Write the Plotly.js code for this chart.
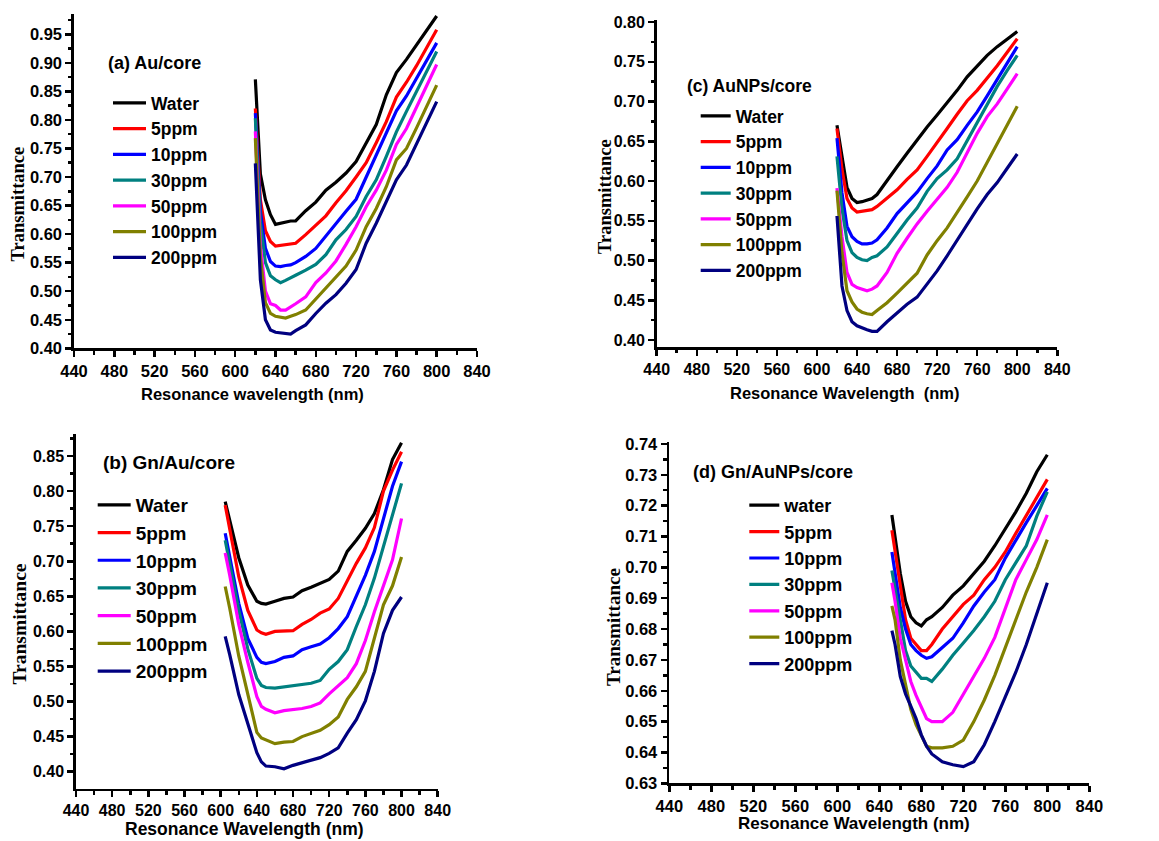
<!DOCTYPE html>
<html>
<head>
<meta charset="utf-8">
<script src="https://cdn.plot.ly/plotly-3.0.1.min.js"></script>
<style>html,body{margin:0;padding:0;background:#fff;}#chart{width:1159px;height:841px;}</style>
</head>
<body>
<div id="chart"></div>
<script>
// ---------------- DATA ----------------
const legendNamesA = ['Water', '5ppm', '10ppm', '30ppm', '50ppm', '100ppm', '200ppm'];
const legendNamesB = ['Water', '5ppm', '10ppm', '30ppm', '50ppm', '100ppm', '200ppm'];
const legendNamesC = ['Water', '5ppm', '10ppm', '30ppm', '50ppm', '100ppm', '200ppm'];
const legendNamesD = ['water', '5ppm', '10ppm', '30ppm', '50ppm', '100ppm', '200ppm'];

// (a) Au/core
const wl_a = [620, 625, 630, 635, 640, 645, 650, 655, 660, 670, 680, 690, 700, 710, 720, 730, 740, 750, 760, 770, 780, 790, 800];
const a_water  = [0.871, 0.705, 0.660, 0.634, 0.617, 0.619, 0.621, 0.623, 0.623, 0.641, 0.656, 0.677, 0.691, 0.707, 0.727, 0.760, 0.792, 0.844, 0.883, 0.906, 0.932, 0.957, 0.982];
const a_5ppm   = [0.820, 0.660, 0.606, 0.587, 0.579, 0.580, 0.582, 0.583, 0.584, 0.599, 0.615, 0.632, 0.655, 0.676, 0.700, 0.725, 0.760, 0.797, 0.840, 0.866, 0.895, 0.927, 0.958];
const a_10ppm  = [0.812, 0.640, 0.575, 0.552, 0.544, 0.543, 0.545, 0.546, 0.550, 0.561, 0.575, 0.597, 0.620, 0.640, 0.661, 0.700, 0.736, 0.777, 0.816, 0.842, 0.873, 0.904, 0.935];
const a_30ppm  = [0.803, 0.620, 0.550, 0.527, 0.520, 0.515, 0.519, 0.524, 0.528, 0.537, 0.547, 0.564, 0.590, 0.608, 0.631, 0.666, 0.695, 0.736, 0.779, 0.815, 0.851, 0.886, 0.920];
const a_50ppm  = [0.780, 0.580, 0.500, 0.478, 0.475, 0.467, 0.467, 0.472, 0.478, 0.490, 0.515, 0.532, 0.553, 0.582, 0.613, 0.648, 0.677, 0.712, 0.757, 0.785, 0.822, 0.860, 0.897];
const a_100ppm = [0.768, 0.560, 0.480, 0.461, 0.456, 0.454, 0.453, 0.456, 0.459, 0.467, 0.486, 0.505, 0.524, 0.544, 0.572, 0.613, 0.645, 0.683, 0.730, 0.750, 0.786, 0.824, 0.861];
const a_200ppm = [0.724, 0.520, 0.450, 0.432, 0.428, 0.427, 0.427, 0.425, 0.431, 0.441, 0.461, 0.479, 0.494, 0.514, 0.538, 0.584, 0.619, 0.657, 0.695, 0.721, 0.758, 0.795, 0.832];

// (c) AuNPs/core
const wl_c = [620, 625, 630, 635, 640, 645, 650, 655, 660, 670, 680, 690, 700, 710, 720, 730, 740, 750, 760, 770, 780, 790, 800];
const c_water  = [0.670, 0.630, 0.592, 0.578, 0.573, 0.574, 0.576, 0.578, 0.583, 0.601, 0.618, 0.635, 0.652, 0.668, 0.683, 0.698, 0.714, 0.731, 0.745, 0.758, 0.769, 0.779, 0.788];
const c_5ppm   = [0.666, 0.615, 0.578, 0.566, 0.561, 0.562, 0.563, 0.564, 0.568, 0.579, 0.589, 0.602, 0.614, 0.631, 0.648, 0.666, 0.684, 0.701, 0.714, 0.729, 0.745, 0.762, 0.779];
const c_10ppm  = [0.654, 0.585, 0.543, 0.530, 0.524, 0.521, 0.521, 0.522, 0.526, 0.541, 0.559, 0.573, 0.586, 0.603, 0.619, 0.639, 0.652, 0.670, 0.687, 0.707, 0.728, 0.748, 0.769];
const c_30ppm  = [0.631, 0.565, 0.525, 0.510, 0.504, 0.501, 0.500, 0.504, 0.506, 0.517, 0.534, 0.551, 0.566, 0.587, 0.603, 0.614, 0.628, 0.651, 0.674, 0.697, 0.719, 0.739, 0.758];
const c_50ppm  = [0.591, 0.530, 0.485, 0.470, 0.466, 0.464, 0.462, 0.464, 0.468, 0.485, 0.509, 0.528, 0.546, 0.562, 0.577, 0.592, 0.611, 0.636, 0.660, 0.681, 0.697, 0.716, 0.735];
const c_100ppm = [0.588, 0.510, 0.462, 0.448, 0.439, 0.435, 0.433, 0.432, 0.437, 0.447, 0.459, 0.471, 0.484, 0.507, 0.525, 0.541, 0.560, 0.580, 0.600, 0.624, 0.646, 0.670, 0.694];
const c_200ppm = [0.556, 0.468, 0.437, 0.423, 0.418, 0.415, 0.413, 0.411, 0.411, 0.423, 0.434, 0.445, 0.454, 0.471, 0.487, 0.506, 0.526, 0.546, 0.565, 0.583, 0.598, 0.616, 0.634];

// (b) Gn/Au/core
const wl_b = [605, 610, 620, 630, 640, 645, 650, 660, 670, 680, 690, 700, 710, 720, 730, 740, 750, 760, 770, 780, 790, 800];
const b_water  = [0.785, 0.757, 0.705, 0.666, 0.643, 0.640, 0.639, 0.643, 0.647, 0.649, 0.658, 0.663, 0.668, 0.674, 0.686, 0.714, 0.730, 0.747, 0.768, 0.802, 0.845, 0.869];
const b_5ppm   = [0.780, 0.745, 0.678, 0.630, 0.602, 0.598, 0.596, 0.600, 0.601, 0.601, 0.610, 0.617, 0.626, 0.632, 0.647, 0.673, 0.697, 0.719, 0.748, 0.800, 0.830, 0.856];
const b_10ppm  = [0.740, 0.708, 0.640, 0.590, 0.563, 0.556, 0.554, 0.557, 0.563, 0.565, 0.574, 0.578, 0.582, 0.591, 0.604, 0.621, 0.652, 0.680, 0.714, 0.760, 0.807, 0.842];
const b_30ppm  = [0.730, 0.695, 0.630, 0.575, 0.533, 0.523, 0.520, 0.519, 0.521, 0.523, 0.524, 0.526, 0.530, 0.546, 0.557, 0.574, 0.607, 0.638, 0.676, 0.722, 0.766, 0.811];
const b_50ppm  = [0.712, 0.680, 0.610, 0.556, 0.507, 0.493, 0.489, 0.484, 0.487, 0.488, 0.490, 0.493, 0.498, 0.511, 0.522, 0.534, 0.554, 0.587, 0.628, 0.664, 0.702, 0.761];
const b_100ppm = [0.664, 0.633, 0.565, 0.508, 0.456, 0.448, 0.445, 0.440, 0.442, 0.443, 0.450, 0.455, 0.459, 0.467, 0.478, 0.503, 0.521, 0.543, 0.591, 0.638, 0.665, 0.706];
const b_200ppm = [0.593, 0.567, 0.510, 0.470, 0.427, 0.414, 0.408, 0.407, 0.404, 0.409, 0.413, 0.417, 0.420, 0.426, 0.434, 0.455, 0.474, 0.501, 0.543, 0.597, 0.630, 0.649];

// (d) Gn/AuNPs/core
const wl_d = [652, 655, 660, 665, 670, 675, 680, 685, 690, 700, 710, 720, 730, 740, 750, 760, 770, 780, 790, 800];
const d_water  = [0.717, 0.710, 0.698, 0.689, 0.684, 0.682, 0.681, 0.683, 0.684, 0.687, 0.691, 0.694, 0.698, 0.702, 0.707, 0.7125, 0.718, 0.724, 0.731, 0.7365];
const d_5ppm   = [0.712, 0.705, 0.694, 0.683, 0.677, 0.675, 0.673, 0.673, 0.675, 0.680, 0.684, 0.688, 0.691, 0.696, 0.700, 0.705, 0.711, 0.717, 0.723, 0.7285];
const d_10ppm  = [0.705, 0.698, 0.687, 0.680, 0.675, 0.673, 0.6715, 0.6705, 0.671, 0.674, 0.677, 0.682, 0.6875, 0.692, 0.696, 0.703, 0.709, 0.7145, 0.720, 0.7256];
const d_30ppm  = [0.699, 0.693, 0.682, 0.673, 0.668, 0.666, 0.664, 0.664, 0.663, 0.667, 0.6715, 0.6755, 0.6795, 0.684, 0.689, 0.696, 0.7016, 0.707, 0.7166, 0.7245];
const d_50ppm  = [0.695, 0.689, 0.677, 0.670, 0.663, 0.6585, 0.655, 0.651, 0.650, 0.650, 0.653, 0.659, 0.665, 0.6705, 0.6773, 0.687, 0.696, 0.7025, 0.709, 0.717];
const d_100ppm = [0.6875, 0.683, 0.670, 0.662, 0.654, 0.649, 0.6455, 0.642, 0.6415, 0.6415, 0.642, 0.644, 0.650, 0.657, 0.665, 0.674, 0.683, 0.692, 0.700, 0.709];
const d_200ppm = [0.6795, 0.675, 0.6646, 0.659, 0.655, 0.651, 0.6457, 0.642, 0.6395, 0.637, 0.636, 0.6354, 0.637, 0.6425, 0.650, 0.658, 0.666, 0.675, 0.685, 0.695];

const panelLabels = ['(a) Au/core', '(c) AuNPs/core', '(b) Gn/Au/core', '(d) Gn/AuNPs/core'];
const xTitles = ['Resonance wavelength (nm)', 'Resonance Wavelength  (nm)', 'Resonance Wavelength (nm)', 'Resonance Wavelength (nm)'];
const yTitle = 'Transmittance';

// ---------------- STYLE / LAYOUT ----------------
const W = 1159, H = 841;
const colors = ['#000000', '#FF0000', '#0000FF', '#008080', '#FF00FF', '#808000', '#000080'];
const SANS = 'Liberation Sans, Arial, Helvetica, sans-serif';
const SERIF = 'Liberation Serif, Times New Roman, serif';

const panels = [
  { key: '',  wl: wl_a, ys: [a_water, a_5ppm, a_10ppm, a_30ppm, a_50ppm, a_100ppm, a_200ppm], names: legendNamesA,
    legend: 'legend',  px: [74, 477],   py: [348.3, 14.3], yr: [0.40, 0.985], ydt: 0.05, tf: 16.5 },
  { key: '2', wl: wl_c, ys: [c_water, c_5ppm, c_10ppm, c_30ppm, c_50ppm, c_100ppm, c_200ppm], names: legendNamesC,
    legend: 'legend2', px: [656.7, 1057.3], py: [347.2, 20.4], yr: [0.391, 0.802], ydt: 0.05, tf: 16 },
  { key: '3', wl: wl_b, ys: [b_water, b_5ppm, b_10ppm, b_30ppm, b_50ppm, b_100ppm, b_200ppm], names: legendNamesB,
    legend: 'legend3', px: [76, 437.7], py: [788.5, 434.3], yr: [0.376, 0.881], ydt: 0.05, tf: 16 },
  { key: '4', wl: wl_d, ys: [d_water, d_5ppm, d_10ppm, d_30ppm, d_50ppm, d_100ppm, d_200ppm], names: legendNamesD,
    legend: 'legend4', px: [669.3, 1089.3], py: [783.3, 442.4], yr: [0.63, 0.7405], ydt: 0.01, tf: 16.5 }
];

const traces = [];
const layout = {
  width: W, height: H,
  margin: { l: 0, r: 0, t: 0, b: 0 },
  paper_bgcolor: '#ffffff', plot_bgcolor: 'rgba(0,0,0,0)',
  showlegend: true,
  annotations: []
};

panels.forEach((p) => {
  const xa = 'x' + p.key, ya = 'y' + p.key;
  p.ys.forEach((y, i) => {
    traces.push({
      type: 'scatter', mode: 'lines', x: p.wl, y: y, name: p.names[i],
      xaxis: xa, yaxis: ya, legend: p.legend,
      line: { color: colors[i], width: 3.2 }, hoverinfo: 'x+y+name'
    });
  });
  const tickfont = { family: SANS, size: p.tf, weight: 'bold', color: '#000' };
  layout['xaxis' + p.key] = {
    domain: [p.px[0] / W, p.px[1] / W], anchor: ya,
    range: [440, 840], tick0: 440, dtick: 40,
    ticks: 'outside', ticklen: 6, tickwidth: 2.5, tickcolor: '#000',
    showline: true, linewidth: 2.7, linecolor: '#000',
    showgrid: false, zeroline: false, tickfont: tickfont, fixedrange: true,
    minor: { dtick: 20, ticks: 'outside', ticklen: 3.5, tickwidth: 2.5, tickcolor: '#000', showgrid: false }
  };
  layout['yaxis' + p.key] = {
    domain: [1 - p.py[0] / H, 1 - p.py[1] / H], anchor: xa,
    range: p.yr, tick0: 0, dtick: p.ydt, tickformat: '.2f',
    ticks: 'outside', ticklen: 6, tickwidth: 2.5, tickcolor: '#000',
    showline: true, linewidth: 2.7, linecolor: '#000',
    showgrid: false, zeroline: false, tickfont: tickfont, fixedrange: true,
    minor: { dtick: p.ydt / 2, ticks: 'outside', ticklen: 3.5, tickwidth: 2.5, tickcolor: '#000', showgrid: false }
  };
});

// legends
const legendCommon = (x, y, size, iw) => ({
  x: x / W, y: 1 - y / H, xanchor: 'left', yanchor: 'top',
  bgcolor: 'rgba(0,0,0,0)', borderwidth: 0, tracegroupgap: 0, itemwidth: iw,
  font: { family: SANS, size: size, weight: 'bold', color: '#000' }, traceorder: 'normal'
});
layout.legend  = legendCommon(108, 85, 17.5, 33);
layout.legend2 = legendCommon(695.7, 98, 17.5, 30);
layout.legend3 = legendCommon(92.7, 486, 19, 33);
layout.legend4 = legendCommon(744.3, 487, 18, 30);

// text annotations (panel labels, axis titles)
const ann = (text, x, y, size, opts) => Object.assign({
  text: text, xref: 'paper', yref: 'paper', x: x / W, y: 1 - y / H,
  xanchor: 'center', yanchor: 'middle', showarrow: false,
  font: { family: SANS, size: size, weight: 'bold', color: '#000' }
}, opts || {});

layout.annotations.push(ann(panelLabels[0], 106, 63, 18, { xanchor: 'left' }));
layout.annotations.push(ann(panelLabels[1], 685, 86, 17.5, { xanchor: 'left' }));
layout.annotations.push(ann(panelLabels[2], 101, 463, 19, { xanchor: 'left' }));
layout.annotations.push(ann(panelLabels[3], 691, 472, 18, { xanchor: 'left' }));

layout.annotations.push(ann(xTitles[0], 252, 394, 16.5));
layout.annotations.push(ann(xTitles[1], 845, 393, 16.5));
layout.annotations.push(ann(xTitles[2], 244, 829, 17.5));
layout.annotations.push(ann(xTitles[3], 854, 823, 17));

const yt = (x, y, size) => ann(yTitle, x, y, size, { textangle: -90, font: { family: SERIF, size: size, weight: 'bold', color: '#000' } });
layout.annotations.push(yt(17.5, 204, 18.5));
layout.annotations.push(yt(605, 197, 18.5));
layout.annotations.push(yt(18.5, 624, 19.5));
layout.annotations.push(yt(613, 627, 19));

Plotly.newPlot('chart', traces, layout, { staticPlot: true, displayModeBar: false });
</script>
</body>
</html>
